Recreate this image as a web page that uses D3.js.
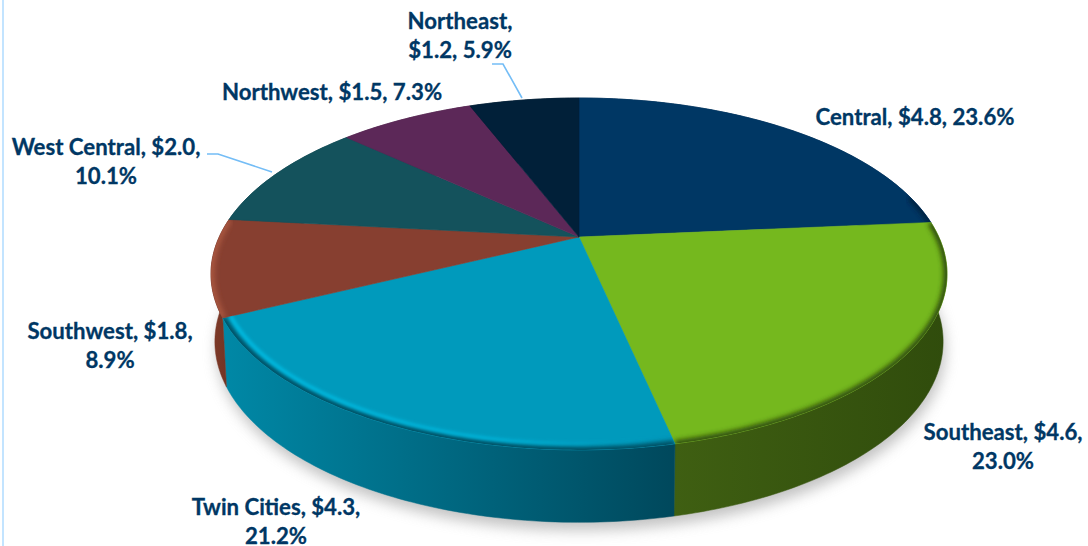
<!DOCTYPE html>
<html>
<head>
<meta charset="utf-8">
<script src="https://cdn.jsdelivr.net/npm/d3@7"></script>
<style>
  html, body { margin: 0; padding: 0; background: #fff; }
  svg { display: block; }
  .label { font-family: Lato, sans-serif; font-weight: 700; font-size: 22.2px; fill: #003764; stroke: #003764; stroke-width: 0.3; text-anchor: middle; }
</style>
</head>
<body>
<svg id="grafico" width="1088" height="546"></svg>
<script>
const categories = ['Central', 'Southeast', 'Twin Cities', 'Southwest', 'West Central', 'Northwest', 'Northeast']
const amounts = [4.8, 4.6, 4.3, 1.8, 2.0, 1.5, 1.2]
const shares = [23.6, 23.0, 21.2, 8.9, 10.1, 7.3, 5.9]

const topColors = ['#003764', '#75b81e', '#009abc', '#873f30', '#14525c', '#5c2858', '#012039']
const wallLeft = ['#00264a', '#3f5f12', '#0088a6', '#7f3a28', '#0e3d45', '#441d41', '#011729']
const wallRight = ['#00264a', '#304c0c', '#00485c', '#6e3222', '#0e3d45', '#441d41', '#011729']
const rimColors = ['#00213f', '#2f4b0c', '#00485c', '#a9573f', null, null, null]

// where each label sits, and how many parts go on the first line
const labelX = [915, 1003, 276, 110, 106, 332, 460]
const labelY = [125, 440, 515, 339, 155, 100, 29]
const labelBreak = [3, 2, 2, 2, 2, 3, 1]

const svg = d3.select('#grafico')
const defs = svg.append('defs')

// perspective of the tilted disc, far side smaller than the near side
const topPlane = { cx: 579, cy: 237, ax: 359.8, ay: 168.2, p: 0.21 }
const bottomPlane = { cx: 579, cy: 303.7, ax: 356, ay: 172.7, p: 0.21 }
const rimPlane = { cx: 579, cy: 237, ax: 352, ay: 163.5, p: 0.21 }

function project(plane, a) {
  const u = Math.sin(a), v = Math.cos(a), w = 1 + plane.p * v
  return [plane.cx + plane.ax * u / w, plane.cy - plane.ay * v / w]
}

function arcPoints(plane, a0, a1) {
  const n = Math.max(2, Math.ceil((a1 - a0) * 60))
  return d3.range(n + 1).map(i => project(plane, a0 + (a1 - a0) * i / n))
}

const line = d3.line()
const pie = d3.pie().sort(null).value(d => d)
const arcs = pie(shares)

function addBlur(id, dev) {
  defs.append('filter').attr('id', id)
    .attr('x', '-20%').attr('y', '-20%').attr('width', '140%').attr('height', '140%')
    .append('feGaussianBlur').attr('stdDeviation', dev)
}
addBlur('blurShadow', 7)
addBlur('blurRim', 2.4)
addBlur('blurGlow', 1.8)

/*linha lateral*/
svg.append('line')
  .attr('x1', 3).attr('x2', 3).attr('y1', 0).attr('y2', 546)
  .attr('stroke', '#c3e4ff').attr('stroke-width', 2)

/*sombra*/
svg.append('path')
  .attr('d', line(arcPoints(bottomPlane, 0, 2 * Math.PI)) + 'Z')
  .attr('transform', 'translate(2, 8)')
  .attr('fill', '#9a9a9a')
  .attr('opacity', 0.6)
  .attr('filter', 'url(#blurShadow)')

/*paredes*/
const walls = svg.append('g')
arcs.forEach((d, i) => {
  const up = arcPoints(topPlane, d.startAngle, d.endAngle)
  const down = arcPoints(bottomPlane, d.startAngle, d.endAngle).reverse()
  const all = up.concat(down)
  const xs = d3.extent(all, p => p[0])
  const g = defs.append('linearGradient').attr('id', 'wall' + i)
    .attr('gradientUnits', 'userSpaceOnUse')
    .attr('x1', xs[0]).attr('x2', xs[1]).attr('y1', 0).attr('y2', 0)
  g.append('stop').attr('offset', 0).attr('stop-color', wallLeft[i])
  g.append('stop').attr('offset', 1).attr('stop-color', wallRight[i])
  walls.append('path')
    .attr('d', line(all) + 'Z')
    .attr('fill', 'url(#wall' + i + ')')
    .attr('stroke', 'url(#wall' + i + ')')
    .attr('stroke-width', 0.5)
})

/*faces*/
const apex = [topPlane.cx, topPlane.cy]
const faces = svg.append('g')
arcs.forEach((d, i) => {
  const outline = [apex].concat(arcPoints(topPlane, d.startAngle, d.endAngle))
  defs.append('clipPath').attr('id', 'clip' + i)
    .append('path').attr('d', line(outline) + 'Z')

  faces.append('path')
    .attr('d', line(outline) + 'Z')
    .attr('fill', topColors[i])
    .attr('stroke', topColors[i])
    .attr('stroke-width', 0.6)

  if (rimColors[i]) {
    const start = Math.max(d.startAngle, Math.PI * 0.42)
    faces.append('g')
      .attr('clip-path', 'url(#clip' + i + ')')
      .append('path')
      .attr('d', line(arcPoints(topPlane, start, d.endAngle)))
      .attr('fill', 'none')
      .attr('stroke', rimColors[i])
      .attr('stroke-width', 7)
      .attr('filter', 'url(#blurRim)')
  }
})

/*brilho da borda, some para a direita*/
const twin = arcs[2]
const glow = defs.append('linearGradient').attr('id', 'glow')
  .attr('gradientUnits', 'userSpaceOnUse')
  .attr('x1', 225).attr('x2', 670).attr('y1', 0).attr('y2', 0)
glow.append('stop').attr('offset', 0).attr('stop-color', '#00b8de').attr('stop-opacity', 1)
glow.append('stop').attr('offset', 0.6).attr('stop-color', '#00b8de').attr('stop-opacity', 0.8)
glow.append('stop').attr('offset', 1).attr('stop-color', '#00b8de').attr('stop-opacity', 0)
faces.append('g')
  .attr('clip-path', 'url(#clip2)')
  .append('path')
  .attr('d', line(arcPoints(rimPlane, twin.startAngle, twin.endAngle)))
  .attr('fill', 'none')
  .attr('stroke', 'url(#glow)')
  .attr('stroke-width', 4)
  .attr('filter', 'url(#blurGlow)')

/*linhas de chamada*/
const leaders = [
  [[492, 64], [503, 64], [522, 98]],
  [[207, 154], [218, 154], [272, 172]]
]
svg.selectAll('.leader')
  .data(leaders)
  .enter()
  .append('path')
  .attr('class', 'leader')
  .attr('d', d => line(d))
  .attr('fill', 'none')
  .attr('stroke', '#74bdf6')
  .attr('stroke-width', 1.6)

/*rotulos*/
categories.forEach((c, i) => {
  const parts = [c + ',', '$' + amounts[i].toFixed(1) + ',', shares[i].toFixed(1) + '%']
  const first = parts.slice(0, labelBreak[i]).join(' ')
  const second = parts.slice(labelBreak[i]).join(' ')
  const t = svg.append('text').attr('class', 'label').attr('y', labelY[i])
  t.append('tspan').attr('x', labelX[i]).text(first)
  if (second) t.append('tspan').attr('x', labelX[i]).attr('dy', 29).text(second)
})
</script>
</body>
</html>
